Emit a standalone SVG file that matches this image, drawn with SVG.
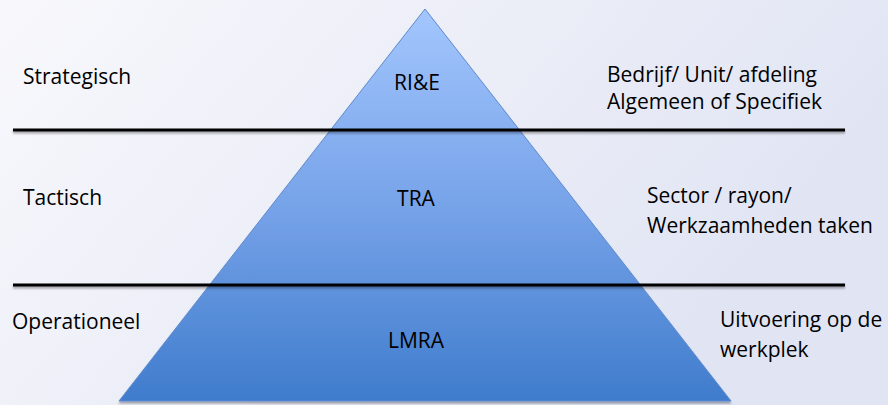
<svg xmlns="http://www.w3.org/2000/svg" width="888" height="405" viewBox="0 0 888 405">
  <defs>
    <linearGradient id="bg" x1="0" y1="0" x2="1" y2="0.4">
      <stop offset="0" stop-color="#f8f8fc"/>
      <stop offset="1" stop-color="#e0e4f3"/>
    </linearGradient>
    <linearGradient id="tri" x1="0" y1="9" x2="0" y2="401" gradientUnits="userSpaceOnUse">
      <stop offset="0" stop-color="#a3c6fd"/>
      <stop offset="0.5" stop-color="#77a3e9"/>
      <stop offset="1" stop-color="#3f7ccc"/>
    </linearGradient>
    <filter id="sh" x="-5%" y="-5%" width="110%" height="120%">
      <feGaussianBlur in="SourceAlpha" stdDeviation="1.2"/>
      <feOffset dx="0" dy="2" result="b"/>
      <feComponentTransfer><feFuncA type="linear" slope="0.35"/></feComponentTransfer>
      <feMerge><feMergeNode/><feMergeNode in="SourceGraphic"/></feMerge>
    </filter>
  </defs>
  <style>
    text { font-family: "Open Sans", "Liberation Sans", sans-serif; font-size: 21px; fill: #000000; }
    .c { text-anchor: middle; }
    .sep { stroke: #000000; stroke-width: 3; }
  </style>
  <rect width="888" height="405" fill="url(#bg)"/>

  <g id="pyramid" filter="url(#sh)">
    <polygon points="425,9 731,401 119,401" fill="url(#tri)" stroke="#5f8bd0" stroke-width="1"/>
  </g>

  <g id="connectors" filter="url(#sh)">
    <line class="sep" x1="13" y1="130" x2="845" y2="130"/>
    <line class="sep" x1="13" y1="285" x2="845" y2="285"/>
  </g>

  <g id="strategisch">
    <text x="23" y="84">Strategisch</text>
    <text class="c" x="417" y="90">RI&amp;E</text>
    <text x="607" y="82">Bedrijf/ Unit/ afdeling</text>
    <text x="607" y="109">Algemeen of Specifiek</text>
  </g>

  <g id="tactisch">
    <text x="23" y="205">Tactisch</text>
    <text class="c" x="416" y="206">TRA</text>
    <text x="647" y="203">Sector / rayon/</text>
    <text x="647" y="233">Werkzaamheden taken</text>
  </g>

  <g id="operationeel">
    <text x="12" y="329">Operationeel</text>
    <text class="c" x="416" y="348">LMRA</text>
    <text x="720" y="327">Uitvoering op de</text>
    <text x="720" y="357">werkplek</text>
  </g>
</svg>
